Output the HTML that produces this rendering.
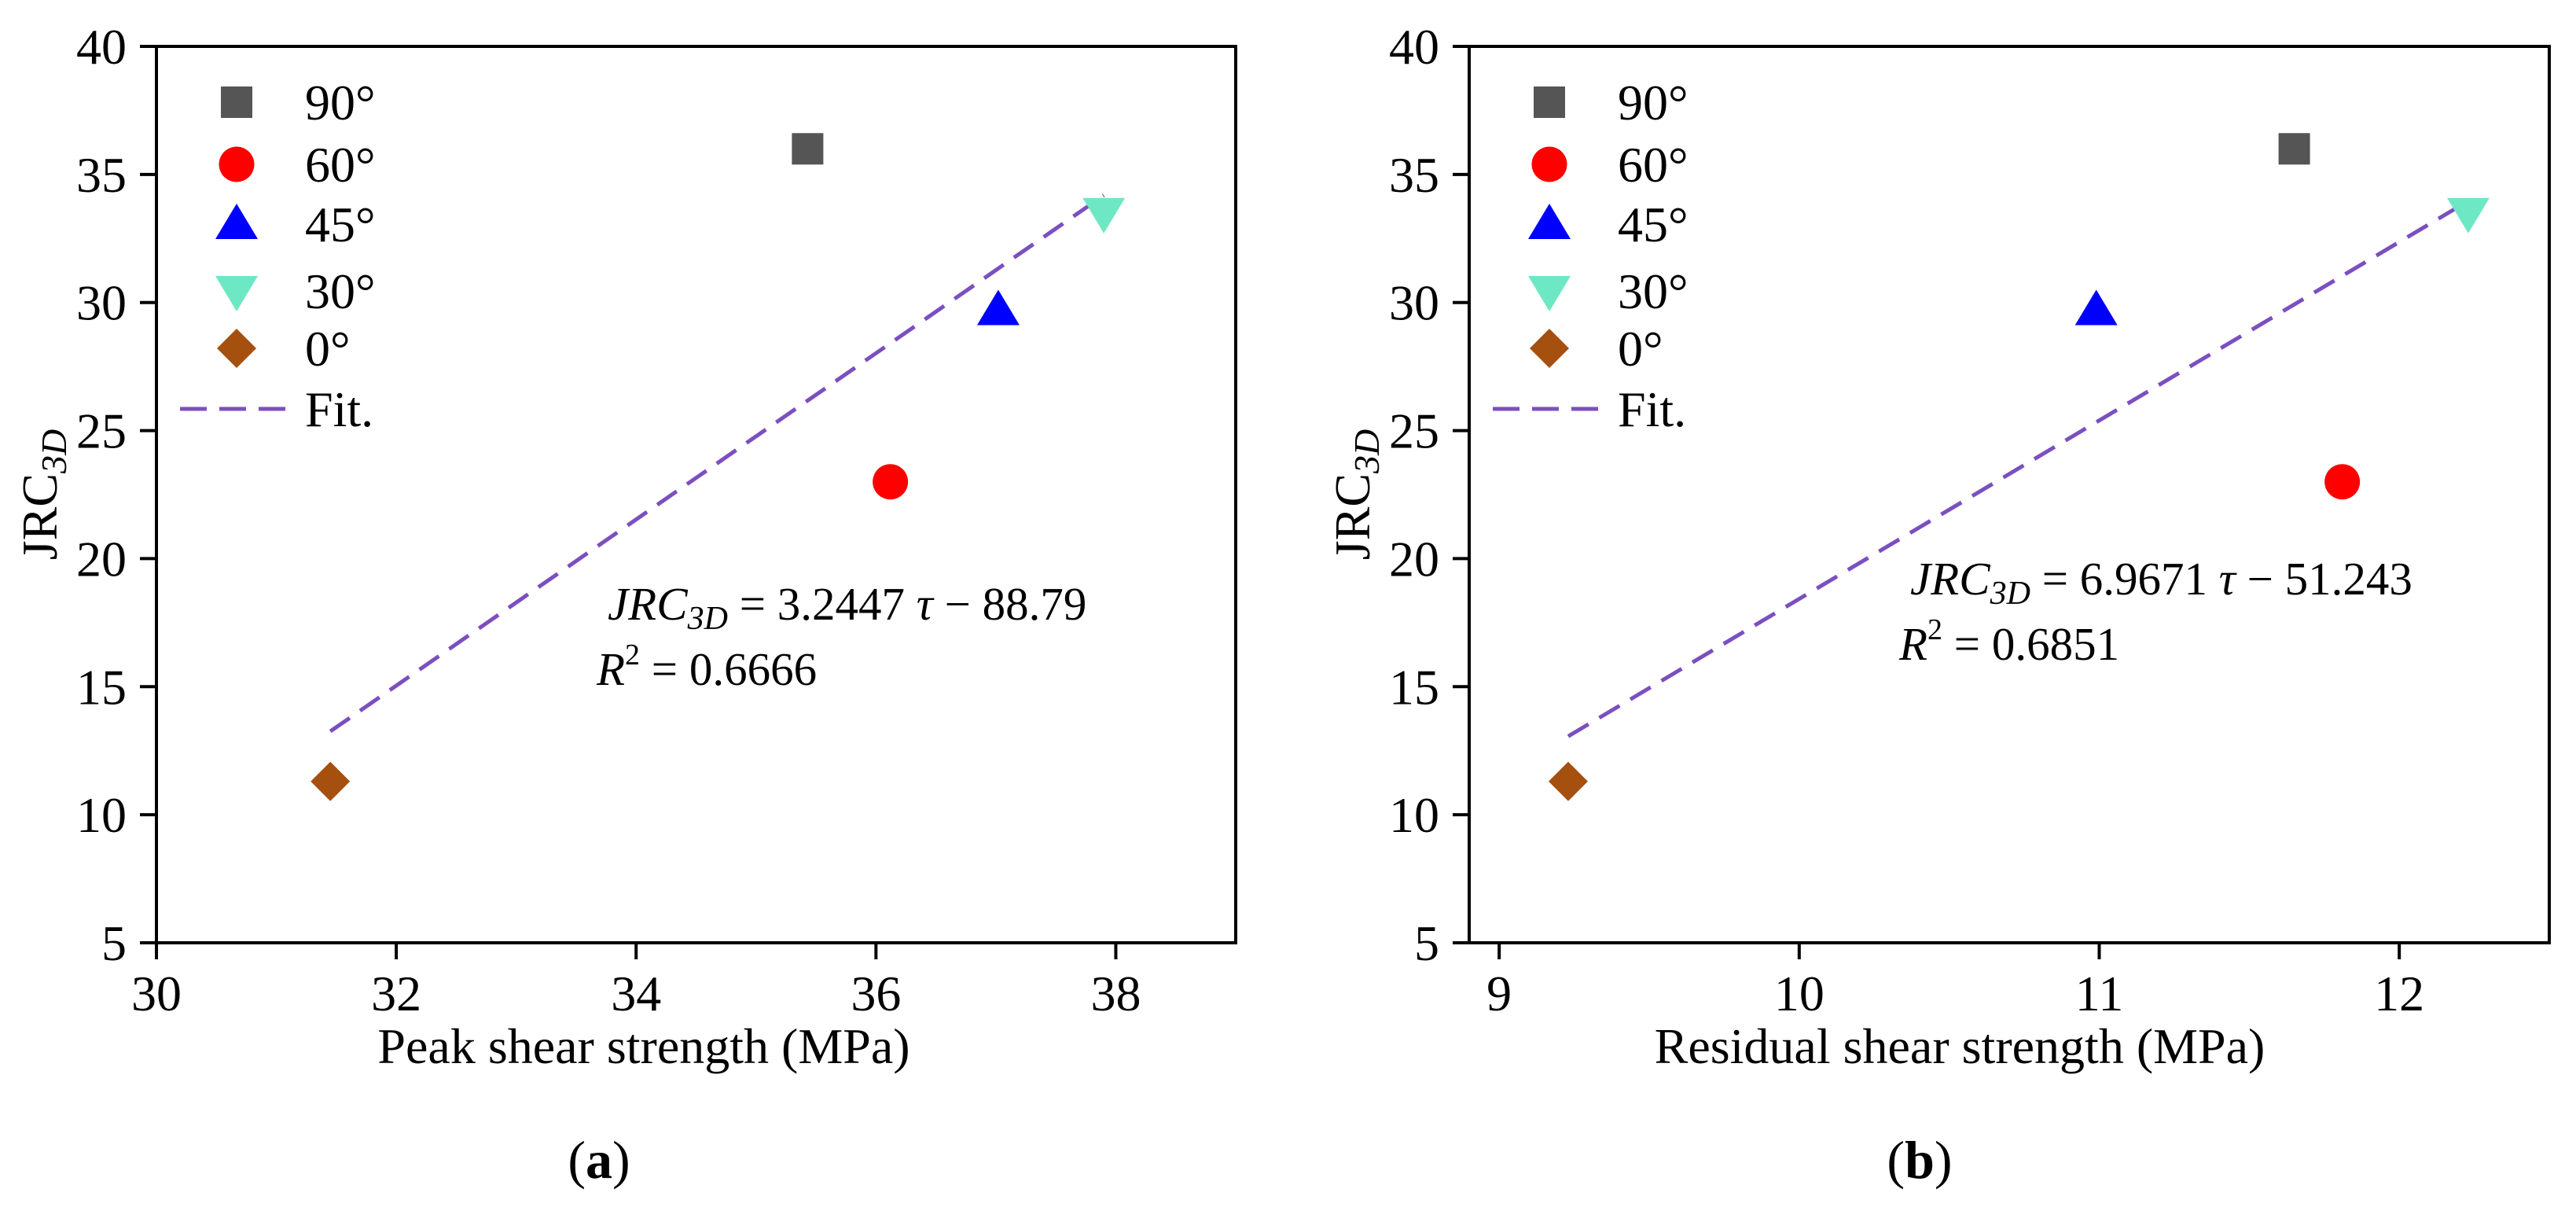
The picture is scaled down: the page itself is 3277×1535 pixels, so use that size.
<!DOCTYPE html>
<html><head><meta charset="utf-8"><style>
html,body{margin:0;padding:0;background:#fff;}
svg{display:block;font-family:"Liberation Serif",serif;}
</style></head><body>
<svg id="fig" width="3277" height="1535" viewBox="0 0 3277 1535" xmlns="http://www.w3.org/2000/svg"></svg>
<script>
const seriesNames = ["90°","60°","45°","30°","0°"];
const peakX = [35.43, 36.12, 37.02, 37.90, 31.45];
const residualX = [11.65, 11.81, 10.99, 12.23, 9.23];
const jrcY = [36.0, 23.0, 29.7, 33.5, 11.3];
const fitA = [3.2447, -88.79];
const fitB = [6.9671, -51.243];
const fitRangeA = [31.45, 37.9];
const fitRangeB = [9.23, 12.23];
const xTicksA = [30, 32, 34, 36, 38];
const xTicksB = [9, 10, 11, 12];
const yTicks = [5, 10, 15, 20, 25, 30, 35, 40];

const NS = "http://www.w3.org/2000/svg";
const svg = document.getElementById('fig');
const colors = ["#555555","#ff0000","#0000ff","#6ee8c4","#a5500f"];
const shapes = ["square","circle","tri-up","tri-down","diamond"];

function mk(tag, attrs, parent, txt){
  const e = document.createElementNS(NS, tag);
  for (const k in attrs) e.setAttribute(k, attrs[k]);
  if (txt !== undefined) e.textContent = txt;
  (parent||svg).appendChild(e);
  return e;
}
function marker(g, shape, cx, cy, color){
  let e;
  if (shape==="square") e = mk('rect',{x:cx-20,y:cy-20,width:40,height:40,fill:color},g);
  else if (shape==="circle") e = mk('circle',{cx:cx,cy:cy,r:22.5,fill:color},g);
  else if (shape==="tri-up") e = mk('polygon',{points:`${cx},${cy-26} ${cx+27},${cy+19} ${cx-27},${cy+19}`,fill:color},g);
  else if (shape==="tri-down") e = mk('polygon',{points:`${cx},${cy+26} ${cx+27},${cy-19} ${cx-27},${cy-19}`,fill:color},g);
  else e = mk('polygon',{points:`${cx},${cy-25} ${cx+25},${cy} ${cx},${cy+25} ${cx-25},${cy}`,fill:color},g);
  return e;
}

function panel(o){
  const g = mk('g',{});
  
  
  const L=o.left, R=o.right, T=59, B=1199;
  const sx = v => L + (v - o.xmin)/(o.xmax - o.xmin)*(R-L);
  const sy = v => B - (v - 5)/(40 - 5)*(B-T);
  const fr = mk('rect',{x:L,y:T,width:R-L,height:B-T,fill:"none",stroke:"#000","stroke-width":4},g);
  
  
  yTicks.forEach(v=>{
    const y=sy(v);
    const t = mk('line',{x1:L-21,y1:y,x2:L,y2:y,stroke:"#000","stroke-width":4},g);
    
    
    const lb = mk('text',{x:L-38,y:y+22,"font-size":64,"text-anchor":"end"},g,String(v));
    
    
  });
  o.xticks.forEach(v=>{
    const x=sx(v);
    const t = mk('line',{x1:x,y1:B,x2:x,y2:B+21,stroke:"#000","stroke-width":4},g);
    
    
    const lb = mk('text',{x:x,y:1285,"font-size":64,"text-anchor":"middle"},g,String(v));
    
    
  });
  const xt = mk('text',{x:o.xtitleX,y:1352,"font-size":64,"text-anchor":"middle"},g,o.xtitle);
  
  
  const yt = mk('text',{x:0,y:0,"font-size":64,"text-anchor":"middle",transform:`translate(${L-127},${(T+B)/2}) rotate(-90)`},g);
  
  
  mk('tspan',{},yt,"JRC");
  mk('tspan',{"font-size":46,"font-style":"italic",dy:12},yt,"3D");
  const fl = mk('line',{x1:sx(o.fitRange[0]),y1:sy(o.fit[0]*o.fitRange[0]+o.fit[1]),x2:sx(o.fitRange[1]),y2:sy(o.fit[0]*o.fitRange[1]+o.fit[1]),stroke:"#7b4fc0","stroke-width":5,"stroke-dasharray":"30 16"},g);
  
  
  o.xs.forEach((xv,i)=>{
    const m = marker(g, shapes[i], sx(xv), sy(jrcY[i]), colors[i]);
    
    
  });
  const rows=[130,209,285,370,443,520];
  seriesNames.forEach((n,i)=>{
    const m = marker(g, shapes[i], o.legX, rows[i], colors[i]);
    
    
    const t = mk('text',{x:o.legX+87,y:rows[i]+22,"font-size":64},g,n);
    
    
  });
  const ll = mk('line',{x1:o.legX-72,y1:rows[5],x2:o.legX+69,y2:rows[5],stroke:"#7b4fc0","stroke-width":5,"stroke-dasharray":"34 16"},g);
  
  
  const lt = mk('text',{x:o.legX+87,y:rows[5]+22,"font-size":64},g,"Fit.");
  
  
  const eq = mk('text',{x:o.eqX,y:o.eqY,"font-size":59},g);
  
  
  mk('tspan',{"font-style":"italic"},eq,"JRC");
  mk('tspan',{"font-style":"italic","font-size":42,dy:12},eq,"3D");
  mk('tspan',{dy:-12},eq," = "+o.fit[0]+" ");
  mk('tspan',{"font-style":"italic"},eq,"τ");
  mk('tspan',{},eq," − "+Math.abs(o.fit[1]));
  const r2 = mk('text',{x:o.eqX-14,y:o.eqY+83,"font-size":59},g);
  
  
  mk('tspan',{"font-style":"italic"},r2,"R");
  mk('tspan',{"font-size":38,dy:-26},r2,"2");
  mk('tspan',{dy:26},r2," = "+o.r2);
  const cap = mk('text',{x:o.capX,y:1498,"font-size":68,"text-anchor":"middle"},g);
  
  
  mk('tspan',{},cap,"(");
  mk('tspan',{"font-weight":"bold"},cap,o.label);
  mk('tspan',{},cap,")");
}

panel({id:"panel-a",left:199,right:1572,xmin:30,xmax:39,xticks:xTicksA,xs:peakX,fit:fitA,fitRange:fitRangeA,
  xtitle:"Peak shear strength (MPa)",xtitleX:819,capX:762,legX:301,eqX:773,eqY:788,r2:"0.6666",label:"a"});
panel({id:"panel-b",left:1869,right:3243,xmin:8.9,xmax:12.5,xticks:xTicksB,xs:residualX,fit:fitB,fitRange:fitRangeB,
  xtitle:"Residual shear strength (MPa)",xtitleX:2493,capX:2442,legX:1971,eqX:2430,eqY:756,r2:"0.6851",label:"b"});
</script>
</body></html>
